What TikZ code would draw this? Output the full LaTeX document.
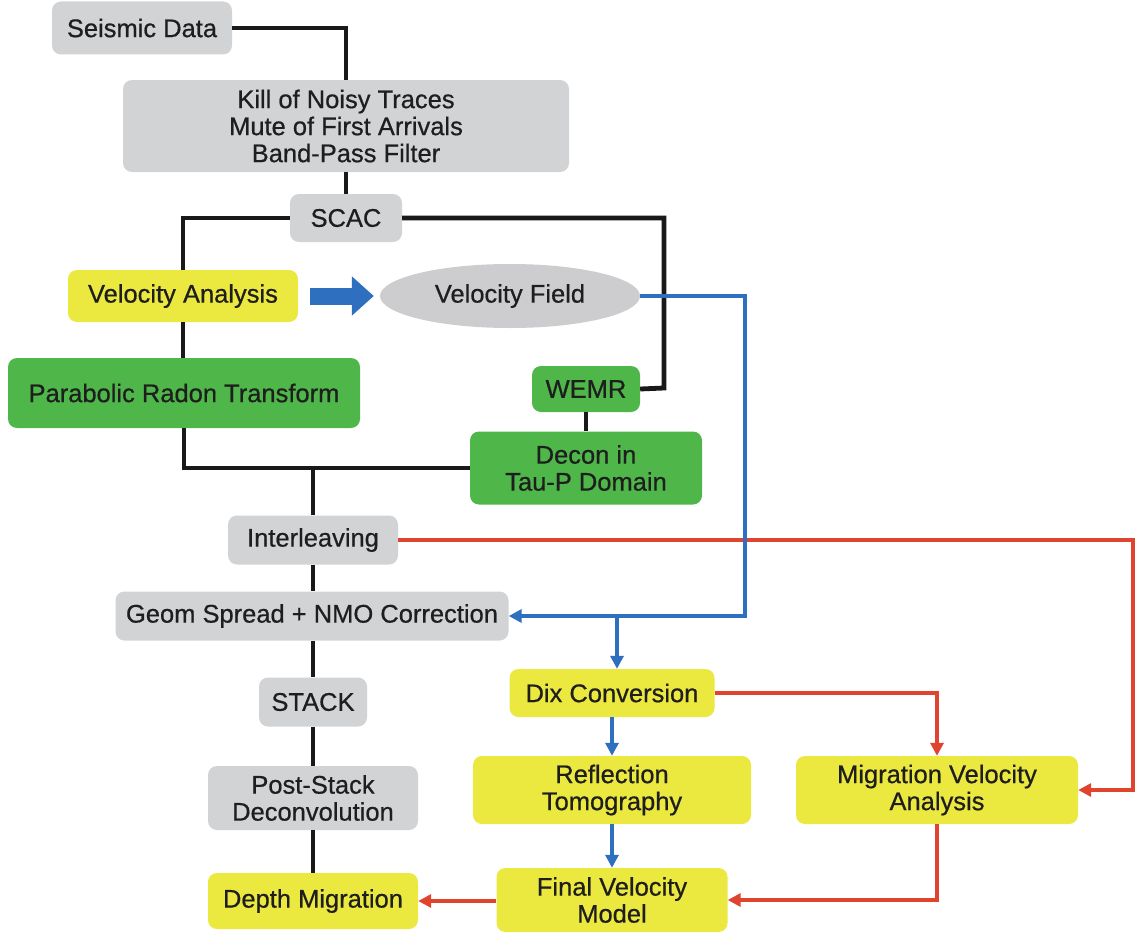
\documentclass[tikz,border=0pt]{standalone}
\usepackage{fontspec}
\setmainfont{Liberation Sans}[UprightFeatures={FakeBold=0.6}]
\usetikzlibrary{arrows.meta,shapes.geometric}
\definecolor{boxgray}{HTML}{D2D3D5}
\definecolor{boxyellow}{HTML}{EBE840}
\definecolor{boxgreen}{HTML}{4FB74A}
\definecolor{ellgray}{HTML}{CDCDCF}
\definecolor{lineblue}{HTML}{2F6FBF}
\definecolor{linered}{HTML}{E0442E}
\definecolor{txt}{HTML}{1E1E1E}
\begin{document}
\begin{tikzpicture}[x=1pt,y=-1pt,
  basebox/.style={rectangle, rounded corners=9pt, inner sep=0pt, align=center,
    text=txt, font=\fontsize{25.5}{27}\selectfont},
  gbox/.style={basebox, fill=boxgray},
  ybox/.style={basebox, fill=boxyellow},
  grbox/.style={basebox, fill=boxgreen},
  blk/.style={line width=4.8pt, black!90},
  bl/.style={line width=3.5pt, lineblue},
  rd/.style={line width=3.5pt, linered},
  tipb/.style={-{Triangle[length=13pt,width=13pt]}},
]
\useasboundingbox (0,0) rectangle (1135,934);
\fill[white] (0,0) rectangle (1135,934);

% nodes
\node[gbox, minimum width=180pt, minimum height=53pt] (sd) at (142,28) {Seismic Data};
\node[gbox, minimum width=446pt, minimum height=92pt] (kill) at (346,126)
  {Kill of Noisy Traces\\Mute of First Arrivals\\Band-Pass Filter};
\node[gbox, minimum width=112pt, minimum height=48pt] (scac) at (346,218) {SCAC};
\node[ybox, minimum width=230pt, minimum height=52pt] (va) at (183,296) {Velocity Analysis};
\node[ellipse, fill=ellgray, inner sep=0pt, minimum width=260pt, minimum height=64pt,
  text=txt, font=\fontsize{25.5}{27}\selectfont] (vf) at (510,296) {Velocity Field};
\node[grbox, minimum width=352pt, minimum height=70pt] (prt) at (184,393) {Parabolic Radon Transform};
\node[grbox, minimum width=108pt, minimum height=46pt] (wemr) at (586,389) {WEMR};
\node[grbox, minimum width=232pt, minimum height=73pt] (decon) at (586,468) {Decon in\\Tau-P Domain};
\node[gbox, minimum width=170pt, minimum height=49pt] (inter) at (313,540) {Interleaving};
\node[gbox, minimum width=393pt, minimum height=49pt] (geom) at (312,616) {Geom Spread + NMO Correction};
\node[gbox, minimum width=108pt, minimum height=49pt] (stack) at (313,702) {STACK};
\node[gbox, minimum width=210pt, minimum height=64pt] (post) at (313,798) {Post-Stack\\Deconvolution};
\node[ybox, minimum width=210pt, minimum height=56pt] (dm) at (313,901) {Depth Migration};
\node[ybox, minimum width=205pt, minimum height=48pt] (dix) at (612,693) {Dix Conversion};
\node[ybox, minimum width=278pt, minimum height=68pt] (rt) at (612,790) {Reflection\\Tomography};
\node[ybox, minimum width=231pt, minimum height=64pt] (fvm) at (612,900) {Final Velocity\\Model};
\node[ybox, minimum width=282pt, minimum height=68pt] (mva) at (937,790) {Migration Velocity\\Analysis};

\coordinate (redR) at (1133,540);
\coordinate (blueR) at (745,296);
\coordinate (blueJ) at (617,617);

% black connectors
\draw[blk] (sd.east) -| (kill.north);
\draw[blk] (kill.south) -- (scac.north);
\draw[blk] (scac.west) -| (va.north);
\draw[blk] (va.south) -- (va.south |- prt.north);
\draw[blk] (prt.south) |- (decon.west);
\draw[blk] (inter.north) -- (inter.north |- decon.west);
\draw[blk] (scac.east) -| (664,388) -- (wemr.east);
\draw[blk] (wemr.south) -- (decon.north);
\draw[blk] (inter.south) -- (inter.south |- geom.north);
\draw[blk] (stack.north |- geom.south) -- (stack.north);
\draw[blk] (stack.south) -- (post.north);
\draw[blk] (post.south) -- (dm.north);

% red connectors
\draw[rd, tipb] (inter.east) -- (redR) |- (mva.east);
\draw[rd, tipb] (dix.east) -| (mva.north);
\draw[rd, tipb] (mva.south) |- (fvm.east);
\draw[rd, tipb] (fvm.west |- dm.east) -- (dm.east);

% blue connectors
\draw[bl, tipb] (vf.east) -- (blueR) |- (geom.east);
\draw[bl, tipb] (blueJ) -- (blueJ |- dix.north);
\draw[bl, tipb] (dix.south) -- (rt.north);
\draw[bl, tipb] (rt.south) -- (fvm.north);

% fat blue arrow
\draw[lineblue, line width=17pt, -{Triangle[length=22pt,width=38pt]},
  shorten <=12pt, shorten >=6pt] (va.east) -- (vf.west);
\end{tikzpicture}
\end{document}
